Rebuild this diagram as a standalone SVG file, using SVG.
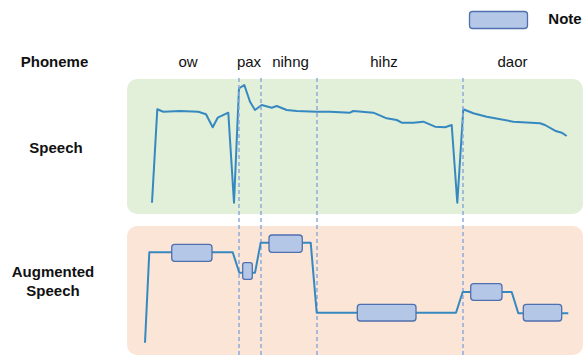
<svg xmlns="http://www.w3.org/2000/svg" width="583" height="356" viewBox="0 0 583 356">
<style>
.lbl{font-family:"Liberation Sans",Arial,sans-serif;font-size:15px;font-weight:bold;fill:#111;text-anchor:middle}
.ph{font-family:"Liberation Sans",Arial,sans-serif;font-size:15px;fill:#111;text-anchor:middle}
.note{fill:#b4c7e7;stroke:#4f6fae;stroke-width:1.3}
.wave{fill:none;stroke:#3589c0;stroke-width:2;stroke-linejoin:round}
.dash{stroke:#8faadc;stroke-width:1.5;stroke-dasharray:4 3}
</style>
<rect width="583" height="356" fill="#ffffff"/>
<g id="legend">
<rect class="note" x="469.5" y="11.5" width="58" height="17" rx="3"/>
<text class="lbl" x="565" y="24">Note</text>
</g>
<g id="labels">
<text class="lbl" x="54.5" y="67">Phoneme</text>
<text class="lbl" x="56" y="153">Speech</text>
<text class="lbl" x="53" y="277">Augmented</text>
<text class="lbl" x="53" y="296">Speech</text>
<text class="ph" x="188" y="67">ow</text>
<text class="ph" x="249" y="67">pax</text>
<text class="ph" x="290.5" y="67">nihng</text>
<text class="ph" x="384" y="67">hihz</text>
<text class="ph" x="512.5" y="67">daor</text>
</g>
<g id="speech-panel">
<rect x="127" y="79" width="456" height="135" rx="10" fill="#e2efd9"/>
</g>
<g id="augmented-panel">
<rect x="127" y="226" width="456" height="129" rx="10" fill="#fbe5d6"/>
</g>
<g id="speech-wave">
<polyline class="wave" points="152,202.7 157.3,109.3 163.3,111.7 180,111 198.3,111.7 206,114.3 212.7,127.3 217.7,117.7 228.3,112.7 234,202.7 239,88.3 244.3,85 250,101.7 255,110 261.7,105 271.7,107.7 276.7,106 286.7,110 296.7,111 316.7,111.7 330,111.7 350,112.7 353.3,111 373.3,112.7 386.7,118.3 396.7,120 401.7,122.7 413.3,122.7 423.3,121.7 435,126.7 445,127.3 451.7,125 457.3,202.7 463.3,109.3 473.3,113.3 486.7,116.7 513.3,121.7 540,123.3 545,125 555,130.7 561.7,132.7 566.7,136"/>
</g>
<g id="connectors">
<line class="dash" x1="239" y1="78" x2="239" y2="356"/>
<line class="dash" x1="261" y1="78" x2="261" y2="356"/>
<line class="dash" x1="317" y1="78" x2="317" y2="356"/>
<line class="dash" x1="463" y1="78" x2="463" y2="356"/>
</g>
<g id="augmented-wave">
<polyline class="wave" points="145,342.7 149.3,252.3 232.7,252.3 239.3,272.7 255,272.7 260.7,242.7 310.7,242.7 316.7,312.7 456,312.7 462.7,292 511.7,292 518.3,313.3 568.3,313.3"/>
</g>
<g id="note1"><rect class="note" x="171.7" y="244.3" width="40.3" height="17" rx="3"/></g>
<g id="note2"><rect class="note" x="242.7" y="262.7" width="9.6" height="16.6" rx="2"/></g>
<g id="note3"><rect class="note" x="269" y="235" width="33.3" height="17.3" rx="3"/></g>
<g id="note4"><rect class="note" x="357.3" y="304.3" width="58.7" height="16.7" rx="3"/></g>
<g id="note5"><rect class="note" x="470.7" y="283.7" width="31.3" height="16.6" rx="3"/></g>
<g id="note6"><rect class="note" x="523.3" y="304.3" width="38.4" height="16.7" rx="3"/></g>
</svg>
